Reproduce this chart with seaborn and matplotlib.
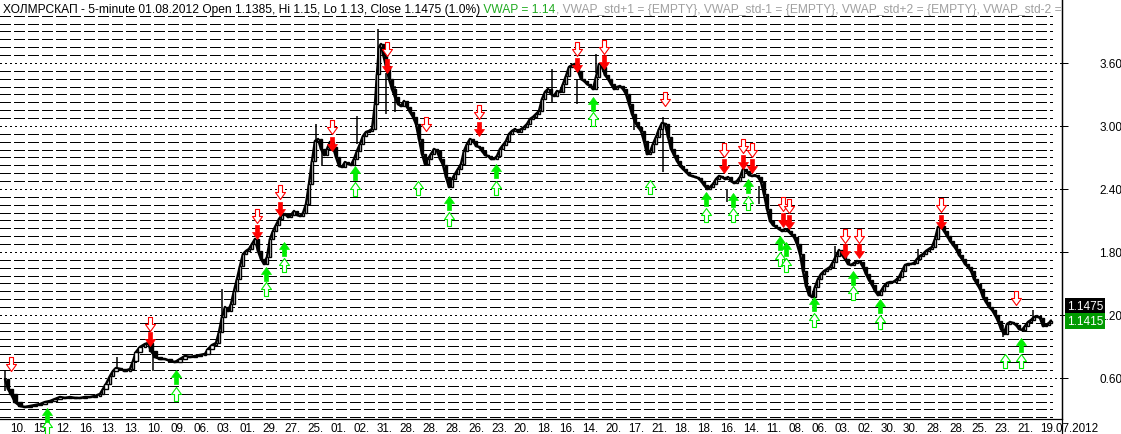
import numpy as np
import matplotlib
matplotlib.use("Agg")
import matplotlib.pyplot as plt
import seaborn as sns
from matplotlib.path import Path
from matplotlib.lines import Line2D
from matplotlib.transforms import Bbox, ScaledTranslation

sns.set_style("white")
plt.rcParams["font.family"] = ["Liberation Sans", "DejaVu Sans"]

# ---------------- data ----------------
bar_index = [5, 8, 11, 15, 20, 25, 30, 35, 40, 45, 50, 55, 60, 65, 70, 75, 80, 85, 90, 95,
             100, 103, 106, 110, 113, 116, 120, 125, 130, 133, 136, 140, 145, 148, 151, 155,
             160, 165, 170, 175, 180, 185, 190, 195, 200, 205, 208, 212, 216, 219, 222, 225,
             228, 231, 234, 237, 240, 243, 246, 249, 252, 255, 258, 261, 264, 267, 270, 273,
             276, 279, 282, 285, 288, 291, 294, 297, 300, 303, 306, 309, 312, 315, 318, 321,
             324, 327, 330, 333, 336, 339, 342, 345, 348, 351, 354, 357, 360, 363, 366, 369,
             372, 375, 377, 379, 381, 383, 386, 389, 392, 395, 398, 401, 404, 407, 410, 413,
             416, 419, 422, 425, 428, 431, 434, 437, 440, 443, 446, 449, 452, 455, 458, 461,
             464, 467, 470, 473, 476, 479, 482, 485, 488, 491, 494, 497, 500, 503, 506, 509,
             512, 515, 518, 521, 524, 527, 530, 533, 536, 539, 542, 545, 548, 551, 554, 557,
             560, 563, 566, 569, 572, 575, 578, 581, 584, 587, 590, 593, 596, 599, 602, 605,
             608, 611, 614, 617, 620, 623, 626, 629, 632, 635, 638, 641, 644, 647, 650, 653,
             656, 659, 662, 665, 668, 671, 674, 677, 680, 683, 686, 689, 692, 695, 698, 701,
             704, 707, 710, 713, 716, 719, 722, 725, 728, 731, 734, 737, 740, 743, 746, 749,
             752, 755, 758, 761, 764, 767, 770, 773, 776, 779, 782, 785, 788, 791, 794, 797,
             800, 803, 806, 809, 812, 815, 818, 821, 824, 827, 830, 833, 836, 839, 842, 845,
             848, 851, 854, 857, 860, 863, 866, 869, 872, 875, 878, 881, 884, 887, 890, 893,
             896, 899, 902, 905, 908, 911, 914, 917, 920, 923, 926, 929, 932, 935, 938, 941,
             944, 947, 950, 953, 956, 959, 962, 965, 968, 971, 974, 977, 980, 983, 986, 989,
             992, 995, 998, 1001, 1004, 1007, 1010, 1013, 1016, 1019, 1022, 1025, 1028, 1031,
             1034, 1037, 1040, 1043, 1046, 1049, 1051]

close = [0.590, 0.495, 0.448, 0.371, 0.333, 0.324, 0.333, 0.343, 0.352, 0.371, 0.381, 0.400,
         0.419, 0.410, 0.419, 0.410, 0.410, 0.419, 0.419, 0.429, 0.448, 0.495, 0.543, 0.619,
         0.667, 0.695, 0.686, 0.667, 0.686, 0.762, 0.848, 0.895, 0.924, 0.933, 0.857, 0.800,
         0.781, 0.781, 0.762, 0.752, 0.781, 0.810, 0.800, 0.810, 0.819, 0.829, 0.876, 0.914,
         0.933, 1.038, 1.181, 1.276, 1.238, 1.305, 1.429, 1.543, 1.667, 1.781, 1.810, 1.829,
         1.876, 1.924, 1.810, 1.733, 1.686, 1.752, 1.924, 2.000, 2.057, 2.114, 2.152, 2.162,
         2.133, 2.152, 2.190, 2.152, 2.143, 2.171, 2.257, 2.448, 2.667, 2.857, 2.876, 2.781,
         2.724, 2.781, 2.848, 2.800, 2.705, 2.619, 2.610, 2.657, 2.638, 2.629, 2.686, 2.762,
         2.829, 2.905, 2.943, 2.953, 2.971, 3.209, 3.495, 3.752, 3.781, 3.686, 3.571, 3.448,
         3.352, 3.276, 3.209, 3.190, 3.238, 3.181, 3.133, 3.086, 3.019, 2.876, 2.733, 2.638,
         2.686, 2.733, 2.781, 2.762, 2.686, 2.629, 2.514, 2.419, 2.495, 2.543, 2.590, 2.638,
         2.762, 2.829, 2.876, 2.857, 2.810, 2.800, 2.762, 2.724, 2.714, 2.686, 2.686, 2.714,
         2.781, 2.819, 2.857, 2.924, 2.953, 2.971, 2.943, 2.971, 2.990, 3.019, 3.067, 3.086,
         3.114, 3.143, 3.257, 3.324, 3.352, 3.305, 3.286, 3.333, 3.324, 3.400, 3.476, 3.562,
         3.581, 3.591, 3.524, 3.448, 3.429, 3.400, 3.381, 3.352, 3.467, 3.591, 3.562, 3.486,
         3.448, 3.400, 3.352, 3.371, 3.381, 3.352, 3.305, 3.209, 3.114, 3.038, 2.990, 2.952,
         2.857, 2.733, 2.752, 2.829, 2.895, 2.971, 3.029, 3.019, 2.895, 2.781, 2.724, 2.667,
         2.619, 2.590, 2.562, 2.533, 2.524, 2.514, 2.505, 2.476, 2.438, 2.400, 2.419, 2.448,
         2.495, 2.524, 2.514, 2.495, 2.514, 2.476, 2.457, 2.476, 2.514, 2.590, 2.571, 2.533,
         2.524, 2.533, 2.514, 2.467, 2.352, 2.210, 2.095, 2.057, 2.038, 2.019, 2.000, 2.019,
         2.000, 1.971, 1.943, 1.876, 1.781, 1.619, 1.476, 1.390, 1.371, 1.467, 1.543, 1.590,
         1.619, 1.638, 1.657, 1.705, 1.762, 1.819, 1.771, 1.733, 1.686, 1.676, 1.695, 1.714,
         1.705, 1.657, 1.590, 1.533, 1.486, 1.429, 1.390, 1.429, 1.476, 1.505, 1.514, 1.514,
         1.533, 1.562, 1.619, 1.676, 1.686, 1.686, 1.695, 1.733, 1.762, 1.781, 1.810, 1.829,
         1.848, 1.924, 2.038, 2.048, 2.000, 1.952, 1.905, 1.867, 1.829, 1.771, 1.733, 1.686,
         1.657, 1.619, 1.543, 1.495, 1.448, 1.371, 1.324, 1.276, 1.248, 1.200, 1.143, 1.067,
         1.019, 1.114, 1.133, 1.124, 1.105, 1.067, 1.057, 1.095, 1.133, 1.152, 1.181, 1.190,
         1.171, 1.095, 1.105, 1.124, 1.1475]

# notable wicks: bar, low, high
wick_bar = [5, 117, 153, 222, 316, 322, 357, 378, 386, 395, 552, 577, 596, 634, 663, 727,
            759, 835, 918, 1003, 1033]
wick_low = [0.476, 0.686, 0.667, 1.143, 2.850, 2.619, 2.829, 3.638, 3.114, 3.133, 3.229,
            3.210, 3.500, 2.960, 2.562, 2.276, 2.257, 1.733, 1.733, 0.990, 1.143]
wick_high = [0.667, 0.800, 0.860, 1.448, 3.019, 2.800, 3.095, 3.924, 3.500, 3.381, 3.543,
             3.450, 3.686, 3.086, 3.086, 2.400, 2.430, 1.857, 1.829, 1.100, 1.248]

# signal arrows: bar, price level
red_hollow_bar = [11, 150, 257, 280, 332, 387, 426, 479, 577, 604, 665, 724, 743, 752, 783,
                  789, 845, 859, 941, 1016]
red_hollow_val = [0.733, 1.114, 2.143, 2.367, 2.990, 3.729, 3.019, 3.133, 3.733, 3.757,
                  3.257, 2.771, 2.810, 2.771, 2.257, 2.238, 1.957, 1.957, 2.243, 1.362]
red_filled_bar = [150, 257, 280, 332, 387, 479, 577, 604, 724, 743, 752, 783, 789, 845, 859, 941]
red_filled_val = [0.971, 1.990, 2.210, 2.833, 3.576, 2.976, 3.581, 3.610, 2.619, 2.657,
                  2.619, 2.100, 2.081, 1.805, 1.805, 2.090]
green_filled_bar = [47, 176, 266, 284, 355, 449, 496, 593, 706, 733, 748, 780, 786, 814,
                    853, 880, 1021]
green_filled_val = [0.248, 0.610, 1.595, 1.833, 2.557, 2.267, 2.567, 3.210, 2.300, 2.295,
                    2.424, 1.881, 1.824, 1.300, 1.557, 1.281, 0.919]
green_hollow_bar = [47, 176, 266, 284, 355, 418, 449, 496, 593, 650, 706, 733, 748, 780,
                    786, 814, 853, 880, 1005, 1021]
green_hollow_val = [0.133, 0.452, 1.448, 1.676, 2.400, 2.405, 2.114, 2.410, 3.067, 2.419,
                    2.152, 2.152, 2.267, 1.733, 1.676, 1.152, 1.410, 1.129, 0.762, 0.762]

date_labels = ["10.", "15.", "12.", "16.", "13.", "13.", "10.", "09.", "06.", "03.", "01.",
               "29.", "27.", "25.", "01.", "02.", "31.", "28.", "28.", "28.", "26.", "23.",
               "20.", "18.", "16.", "14.", "20.", "17.", "21.", "18.", "18.", "16.", "14.",
               "11.", "08.", "06.", "03.", "02.", "30.", "30.", "28.", "28.", "25.", "23.",
               "21.", "19.07.2012"]
y_ticks = [0.60, 1.20, 1.80, 2.40, 3.00, 3.60]
last_close = 1.1475
vwap = 1.1415

title_parts = [
    ("ХОЛМРСКАП - 5-minute 01.08.2012 Open 1.1385, Hi 1.15, Lo 1.13, Close 1.1475 (1.0%)", "black"),
    (" VWAP = 1.14", "#1faa1f"),
    (", VWAP_std+1 = {EMPTY}, VWAP_std-1 = {EMPTY}, VWAP_std+2 = {EMPTY}, VWAP_std-2 = {EMPTY}", "#a0a0a0"),
]

# ---------------- figure ----------------
W, H = 1121, 435
fig = plt.figure(figsize=(W / 100, H / 100), dpi=100)
fig.patch.set_facecolor("white")
ax = fig.add_axes([0, 15 / H, 1062 / W, 420 / H])
ax.set_facecolor("white")
ax.set_xlim(0, 1062)
ax.set_ylim(0.2095, 4.2095)

# dashed horizontal rules and dotted major levels
minor = [v for v in np.arange(0.225, 4.06, 0.075) if abs(v / 0.6 - round(v / 0.6)) > 0.01]
ax.hlines(minor, 0, 1052, colors="black", linewidth=0.9, linestyles=(0, (8, 3)),
          zorder=1, antialiased=False)
ax.hlines(y_ticks, 0, 1062, colors="black", linewidth=0.9, linestyles=(0, (1, 2.5)),
          zorder=1, antialiased=False)

xs = np.array(bar_index, dtype=float)
cl = np.array(close)
op = np.r_[cl[0], cl[:-1]]
widths = np.r_[np.diff(xs), 3.0] * 0.9
up = cl >= op

sns.lineplot(x=xs, y=cl, color="black", linewidth=1.8, estimator=None, sort=False, ax=ax, zorder=3)
ax.vlines(wick_bar, wick_low, wick_high, colors="black", linewidth=1.1, zorder=3.5)
ax.bar(xs[~up], (cl - op)[~up], bottom=op[~up], width=widths[~up], color="black",
       edgecolor="black", linewidth=1.0, zorder=4)
ax.bar(xs[up], (cl - op)[up], bottom=op[up], width=widths[up], color="white",
       edgecolor="black", linewidth=1.0, zorder=4)

# arrow markers
down_verts = [(-0.143, 0.5), (0.143, 0.5), (0.143, 0.0), (0.357, 0.0), (0.0, -0.5),
              (-0.357, 0.0), (-0.143, 0.0), (-0.143, 0.5)]
down_arrow = Path(down_verts, closed=True)
up_arrow = Path([(x, -y) for x, y in down_verts], closed=True)
msize = (14 * 0.72) ** 2
red = "#ff0000"
green = "#00ee00"
ax.scatter(red_hollow_bar, red_hollow_val, marker=down_arrow, s=msize, facecolors="white",
           edgecolors=red, linewidths=0.8, zorder=6, clip_on=False)
ax.scatter(red_filled_bar, red_filled_val, marker=down_arrow, s=msize, facecolors=red,
           edgecolors=red, linewidths=0.5, zorder=6, clip_on=False)
ax.scatter(green_hollow_bar, green_hollow_val, marker=up_arrow, s=msize, facecolors="white",
           edgecolors=green, linewidths=0.8, zorder=6, clip_on=False)
ax.scatter(green_filled_bar, green_filled_val, marker=up_arrow, s=msize, facecolors=green,
           edgecolors=green, linewidths=0.5, zorder=6, clip_on=False)

# axes styling
for s in ["left", "top"]:
    ax.spines[s].set_visible(False)
for s in ["bottom", "right"]:
    ax.spines[s].set_color("black")
    ax.spines[s].set_linewidth(0.9)
fig.add_artist(Line2D([1062 / W, 1062 / W], [0, 1], transform=fig.transFigure,
                      color="black", linewidth=0.9))

ax.yaxis.tick_right()
ax.set_yticks(y_ticks)
ax.set_yticklabels([f"{v:.2f}" for v in y_ticks])
ax.tick_params(axis="y", length=4, width=0.72, pad=23, labelsize=8.5, colors="black",
               direction="out")
ax.set_ylabel("")

day_starts = 7 + 22.9 * np.arange(len(date_labels))
ax.set_xticks(day_starts)
ax.set_xticklabels(date_labels)
ax.tick_params(axis="x", length=4, width=0.72, pad=-1.5, labelsize=8.4, colors="black",
               direction="out")
shift = ScaledTranslation(3 / 100, 0, fig.dpi_scale_trans)
for lab in ax.get_xticklabels():
    lab.set_horizontalalignment("left")
    lab.set_transform(lab.get_transform() + shift)
ax.set_xlabel("")

# price boxes on the right axis
ax.annotate(f"{last_close:.4f}", xy=(1, last_close), xycoords=("axes fraction", "data"),
            xytext=(5, 15), textcoords="offset pixels", ha="left", va="center",
            color="white", fontsize=8.5, annotation_clip=False, zorder=10,
            bbox=dict(boxstyle="square,pad=0.15", fc="black", ec="none"))
ax.annotate(f"{vwap:.4f}", xy=(1, vwap), xycoords=("axes fraction", "data"),
            xytext=(5, 0), textcoords="offset pixels", ha="left", va="center",
            color="white", fontsize=8.5, annotation_clip=False, zorder=10,
            bbox=dict(boxstyle="square,pad=0.15", fc="#009a00", ec="none"))

# title line, clipped at the price axis
renderer = fig.canvas.get_renderer()
clip = Bbox.from_extents(0, 0, 1062, H)
xpos = 3
for text, color in title_parts:
    t = fig.text(xpos / W, 1 - 10 / H, text, color=color, fontsize=8.65, ha="left",
                 va="center")
    t.set_clip_box(clip)
    t.set_clip_on(True)
    xpos = t.get_window_extent(renderer).x1

fig.savefig("out.png", dpi=100, facecolor="white")
